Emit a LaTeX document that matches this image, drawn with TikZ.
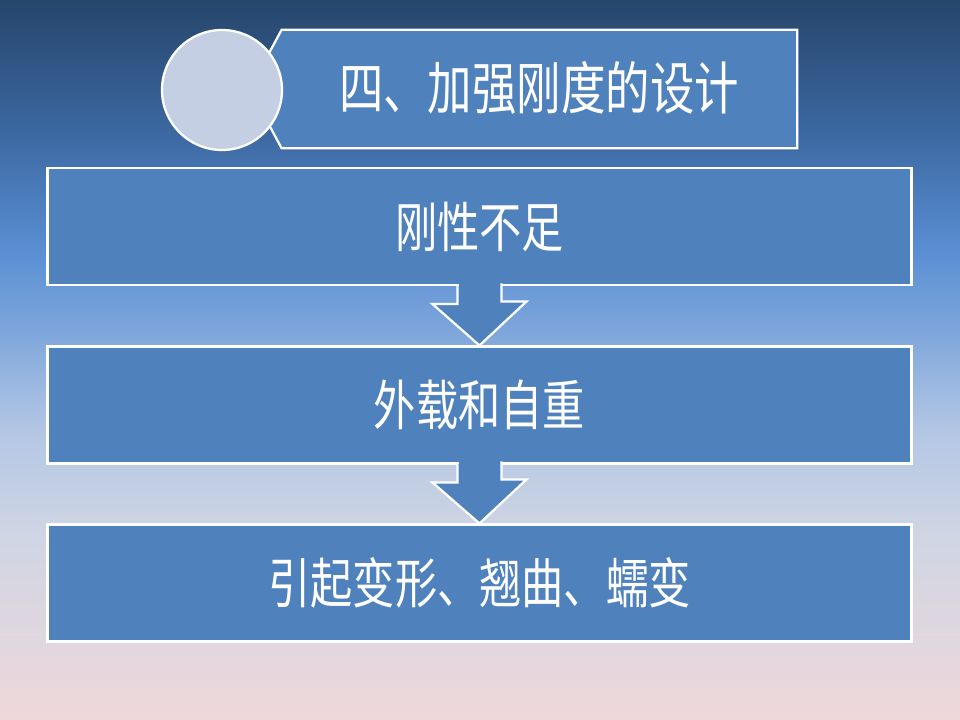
\documentclass[tikz,border=0pt]{standalone}
\usepackage{fontspec}
\usepackage{xcolor}
\usepackage{tikz}
\usetikzlibrary{calc}
\newfontfamily\cjk[FakeStretch=0.78]{Noto Sans CJK SC}
\definecolor{boxblue}{HTML}{4F81BD}
\definecolor{discfill}{HTML}{C5CFE3}
\definecolor{bgA}{HTML}{EED8DA}
\definecolor{bgB}{HTML}{CFD5E4}
\definecolor{bgC}{HTML}{B3C7E4}
\definecolor{bgD}{HTML}{7EA6DB}
\definecolor{bgE}{HTML}{5A8FD3}
\definecolor{bgF}{HTML}{3A659D}
\definecolor{bgG}{HTML}{26466B}
\pgfdeclareverticalshading{slidebg}{100bp}{color(0bp)=(bgA); color(25bp)=(bgA); color(38bp)=(bgB); color(45bp)=(bgC); color(52bp)=(bgD); color(57.5bp)=(bgE); color(66.5bp)=(bgF); color(75bp)=(bgG); color(100bp)=(bgG)}

\begin{document}
\begin{tikzpicture}[x=0.025cm, y=-0.025cm,
    main/.style = {draw=white, fill=boxblue, line width=1.6pt, inner sep=0pt, minimum width=21.6cm, minimum height=2.92cm, text=white, font=\cjk\fontsize{38.5}{44}\selectfont},
    arrowblk/.style = {draw=white, fill=boxblue, line width=1.6pt, line join=miter}]
        \fill[shading=slidebg] (0,0) rectangle (960,720);
        % title
        \node[inner sep=0pt, minimum width=12.875cm, minimum height=2.95cm] (t) at (539.5,89) {};
        \filldraw[arrowblk] (t.north west) -- (t.north east) -- (t.south east) -- (t.south west) -- ($(t.west)+(-32,0)$) -- cycle;
        \node[text=white, font=\cjk\fontsize{40.5}{46}\selectfont] at (539,88) {四、加强刚度的设计};
        \node[draw=white, fill=discfill, circle, line width=1.6pt, inner sep=0pt, minimum size=3cm] (c) at (222,90) {};
        % steps
        \node[main] (1) at (479.5,226.5) {刚性不足};
        \node[main] (2) at (479.5,405) {外载和自重};
        \node[main] (3) at (479.5,583) {引起变形、翘曲、蠕变};
        \fill[boxblue] ($(1.south)+(-21,-3)$) rectangle ($(1.south)+(21,3)$);
        \filldraw[arrowblk] ($(1.south)+(-22,0)$) -- ++(0,18) -- ++(-25,0) -- (2.north) -- ++(47,-44) -- ++(-25,0) -- ++(0,-18);
        \fill[boxblue] ($(2.south)+(-21,-3)$) rectangle ($(2.south)+(21,3)$);
        \filldraw[arrowblk] ($(2.south)+(-22,0)$) -- ++(0,18) -- ++(-25,0) -- (3.north) -- ++(47,-44) -- ++(-25,0) -- ++(0,-18);
    \end{tikzpicture}
\end{document}
